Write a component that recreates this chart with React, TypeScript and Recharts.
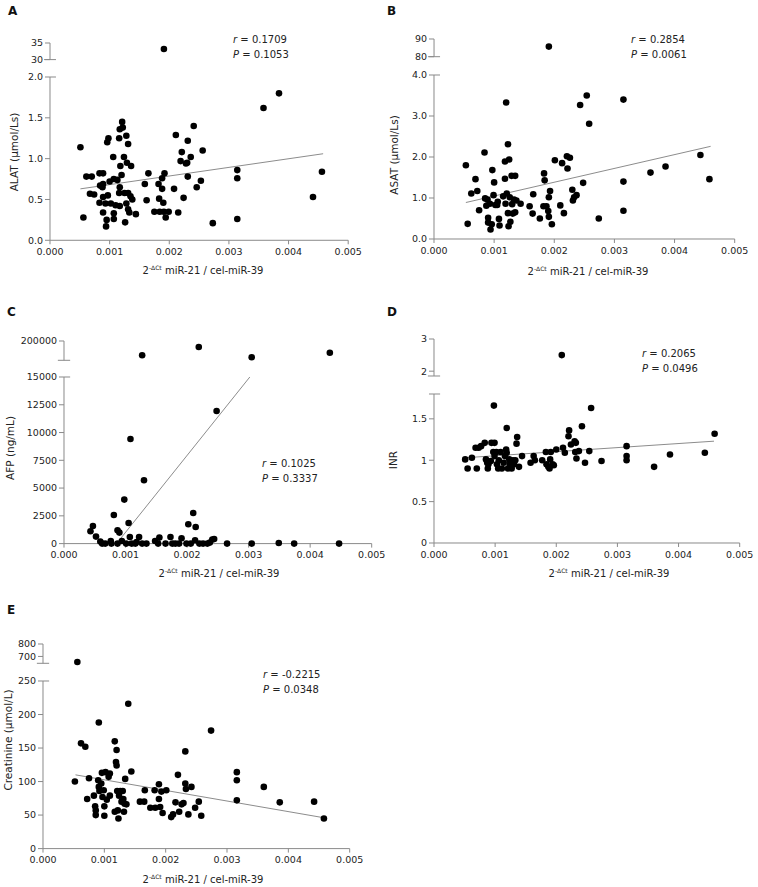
import React from 'react';
import { ScatterChart, Scatter, XAxis, YAxis, ReferenceLine } from 'recharts';

type Pair = [number, number];

const xTicks = [0, 0.001, 0.002, 0.003, 0.004, 0.005];

// A - ALAT
const alatPoints: Pair[] = [
  [0.00051, 1.14], [0.00056, 0.28], [0.00061, 0.78], [0.0007, 0.78], [0.00067, 0.57], [0.00074, 0.56],
  [0.00083, 0.82], [0.00089, 0.82], [0.00084, 0.67], [0.00083, 0.46], [0.00088, 0.65], [0.00089, 0.69],
  [0.00089, 0.53], [0.00089, 0.34], [0.00093, 0.45], [0.00095, 0.25], [0.00094, 0.17], [0.00096, 1.2],
  [0.00098, 1.25], [0.00097, 0.55], [0.001, 0.72], [0.00102, 0.45], [0.00106, 1.02], [0.00107, 0.75],
  [0.00107, 0.33], [0.00107, 0.26], [0.0011, 0.43], [0.00113, 0.74], [0.00116, 1.25], [0.00117, 1.36],
  [0.00118, 0.91], [0.0012, 0.8], [0.00117, 0.65], [0.00116, 0.58], [0.00117, 0.42], [0.00121, 1.45],
  [0.00122, 1.38], [0.00124, 1.02], [0.00125, 0.58], [0.00126, 0.22], [0.00128, 1.28], [0.00129, 0.95],
  [0.00128, 0.45], [0.00131, 1.18], [0.00131, 0.58], [0.00131, 0.38], [0.00135, 0.54], [0.00136, 0.91],
  [0.00133, 0.34], [0.00138, 0.5], [0.00144, 0.32], [0.00159, 0.69], [0.00162, 0.49], [0.00165, 0.82],
  [0.00175, 0.35], [0.00182, 0.69], [0.00183, 0.51], [0.00184, 0.35], [0.00188, 0.76], [0.00188, 0.63],
  [0.0019, 0.46], [0.00191, 0.35], [0.00192, 0.82], [0.00194, 0.28], [0.00199, 0.35], [0.00208, 0.63],
  [0.00211, 1.29], [0.00215, 0.34], [0.00219, 0.97], [0.00221, 1.08], [0.00224, 0.52], [0.00228, 0.94],
  [0.0023, 0.95], [0.00231, 0.78], [0.00231, 1.22], [0.00236, 1.02], [0.00241, 1.4], [0.00246, 0.65],
  [0.00253, 0.73], [0.00256, 1.1], [0.00273, 0.21], [0.00314, 0.86], [0.00314, 0.76], [0.00314, 0.26],
  [0.00358, 1.62], [0.00384, 1.8], [0.00441, 0.53], [0.00456, 0.84],
];
const alatHigh: Pair[] = [[0.00191, 33.2]];
const alatFit: Pair[] = [[0.00051, 0.63], [0.00458, 1.06]];

// B - ASAT
const asatPoints: Pair[] = [
  [0.00053, 1.8], [0.00056, 0.37], [0.00062, 1.11], [0.00069, 1.46], [0.00072, 1.17], [0.00075, 0.7],
  [0.00084, 2.11], [0.00085, 0.99], [0.00087, 0.81], [0.00089, 0.96], [0.0009, 0.52], [0.0009, 0.4],
  [0.00093, 0.86], [0.00094, 0.23], [0.00097, 1.68], [0.00096, 0.36], [0.00099, 1.07], [0.001, 1.38],
  [0.00102, 0.83], [0.00105, 0.83], [0.00106, 0.91], [0.00108, 0.49], [0.00109, 0.33], [0.00115, 1.04],
  [0.00118, 1.47], [0.00118, 1.89], [0.00119, 0.86], [0.0012, 3.33], [0.00121, 1.11], [0.00123, 0.63],
  [0.00123, 2.31], [0.00125, 1.94], [0.00126, 1.02], [0.00124, 0.31], [0.00127, 0.42], [0.00129, 1.54],
  [0.0013, 0.85], [0.00131, 0.62], [0.00133, 0.96], [0.00135, 1.54], [0.00135, 0.65], [0.00137, 0.94],
  [0.00144, 0.86], [0.00159, 0.8], [0.00164, 0.62], [0.00165, 1.09], [0.00176, 0.5], [0.00183, 1.6],
  [0.00184, 1.43], [0.00182, 0.8], [0.00187, 0.8], [0.0019, 0.68], [0.00191, 0.54], [0.00193, 1.17],
  [0.00191, 1.02], [0.00196, 0.36], [0.00201, 1.92], [0.0021, 0.82], [0.00213, 1.85], [0.00216, 0.63],
  [0.00221, 2.02], [0.00222, 1.72], [0.00226, 1.98], [0.0023, 1.2], [0.00231, 0.94], [0.00233, 1.02],
  [0.00237, 1.07], [0.00243, 3.27], [0.00248, 1.37], [0.00254, 3.5], [0.00258, 2.81], [0.00274, 0.5],
  [0.00315, 3.4], [0.00315, 1.4], [0.00315, 0.69], [0.0036, 1.62], [0.00385, 1.77], [0.00443, 2.05],
  [0.00458, 1.46],
];
const asatHigh: Pair[] = [[0.00191, 85.7]];
const asatFit: Pair[] = [[0.00053, 0.89], [0.0046, 2.26]];

// C - AFP
const afpPoints: Pair[] = [
  [0.00043, 1110], [0.00047, 1590], [0.00052, 630], [0.00059, 180], [0.00062, 0], [0.00067, 0],
  [0.00076, 240], [0.00077, 0], [0.00081, 2580], [0.00087, 1200], [0.0009, 990], [0.00087, 0],
  [0.00094, 240], [0.00098, 3960], [0.00101, 0], [0.00105, 1860], [0.00108, 9420], [0.00107, 600],
  [0.0011, 0], [0.00116, 0], [0.00118, 150], [0.00122, 600], [0.00127, 0], [0.0013, 5700],
  [0.00134, 0], [0.00148, 240], [0.00153, 0], [0.00155, 540], [0.00165, 0], [0.00173, 600],
  [0.00176, 0], [0.00181, 0], [0.00187, 0], [0.00191, 480], [0.00199, 0], [0.00202, 1740],
  [0.00206, 0], [0.0021, 2760], [0.00213, 300], [0.00214, 1500], [0.0022, 0], [0.00226, 0],
  [0.00233, 0], [0.00237, 90], [0.00241, 360], [0.00244, 420], [0.00248, 11940], [0.00265, 0],
  [0.00305, 0], [0.00349, 60], [0.00374, 0], [0.00447, 0],
];
const afpHigh: Pair[] = [[0.00127, 185200], [0.00219, 193800], [0.00305, 183100], [0.00432, 187900]];
const afpFit: Pair[] = [[0.00091, 390], [0.00302, 15000]];

// D - INR
const inrPoints: Pair[] = [
  [0.00051, 1.01], [0.00055, 0.9], [0.00062, 1.03], [0.00068, 1.15], [0.0007, 0.9], [0.00073, 1.15],
  [0.00077, 1.17], [0.00083, 1.21], [0.00085, 1.01], [0.00087, 0.97], [0.00088, 0.9], [0.00089, 0.95],
  [0.00093, 0.99], [0.00094, 1.21], [0.00097, 1.1], [0.00098, 1.66], [0.00099, 1.21], [0.00099, 1.05],
  [0.00102, 1.1], [0.00103, 0.95], [0.00105, 0.9], [0.00106, 1.0], [0.00109, 1.1], [0.00111, 0.9],
  [0.00114, 0.97], [0.00116, 1.05], [0.00118, 1.13], [0.00119, 1.39], [0.00119, 1.09], [0.00121, 0.9],
  [0.00123, 1.01], [0.00124, 0.95], [0.00127, 0.9], [0.00129, 1.0], [0.00131, 0.95], [0.00133, 1.0],
  [0.00135, 1.2], [0.00136, 1.28], [0.00139, 0.92], [0.00144, 1.05], [0.00158, 0.97], [0.00163, 1.05],
  [0.00165, 1.0], [0.00177, 1.0], [0.00183, 1.1], [0.00184, 0.95], [0.00187, 0.92], [0.00189, 0.9],
  [0.0019, 1.01], [0.00191, 1.1], [0.00194, 0.95], [0.00196, 0.94], [0.002, 1.13], [0.00211, 1.15],
  [0.00214, 1.09], [0.0022, 1.29], [0.00221, 1.36], [0.00224, 1.19], [0.0023, 1.23], [0.00232, 1.21],
  [0.00231, 1.1], [0.00233, 1.02], [0.00237, 1.11], [0.00242, 1.41], [0.00247, 0.97], [0.00254, 1.11],
  [0.00257, 1.63], [0.00274, 0.99], [0.00315, 1.17], [0.00315, 1.05], [0.00315, 1.0], [0.0036, 0.92],
  [0.00386, 1.07], [0.00443, 1.09], [0.00459, 1.32],
];
const inrHigh: Pair[] = [[0.00209, 2.5]];
const inrFit: Pair[] = [[0.00051, 1.03], [0.00458, 1.23]];

// E - Creatinine
const creaPoints: Pair[] = [
  [0.00052, 100], [0.00062, 157], [0.00069, 152], [0.00072, 74], [0.00075, 105], [0.00083, 79],
  [0.00085, 63], [0.00086, 57], [0.00086, 50], [0.00091, 188], [0.0009, 102], [0.00091, 92],
  [0.00092, 86], [0.00095, 97], [0.00096, 113], [0.00097, 77], [0.00099, 87], [0.001, 63],
  [0.001, 49], [0.00102, 114], [0.00104, 73], [0.00107, 107], [0.00109, 112], [0.00109, 79],
  [0.00117, 160], [0.00117, 55], [0.00119, 129], [0.0012, 147], [0.0012, 124], [0.00121, 86],
  [0.00122, 57], [0.00123, 45], [0.00124, 79], [0.00126, 86], [0.00128, 70], [0.0013, 86],
  [0.00131, 74], [0.00132, 55], [0.00133, 67], [0.00134, 104], [0.00136, 66], [0.00139, 216],
  [0.00144, 115], [0.00158, 70], [0.00165, 70], [0.00166, 87], [0.00175, 61], [0.00182, 87],
  [0.00183, 61], [0.00189, 96], [0.00189, 74], [0.00191, 62], [0.00193, 85], [0.00195, 53],
  [0.00201, 87], [0.00209, 47], [0.00212, 51], [0.00216, 69], [0.0022, 110], [0.00222, 55],
  [0.00226, 66], [0.00229, 68], [0.00232, 145], [0.00232, 97], [0.00233, 89], [0.00237, 51],
  [0.00242, 92], [0.00248, 61], [0.00254, 70], [0.00258, 49], [0.00274, 176], [0.00316, 114],
  [0.00316, 102], [0.00316, 72], [0.0036, 92], [0.00386, 69], [0.00442, 70], [0.00458, 45],
];
const creaHigh: Pair[] = [[0.00056, 656]];
const creaFit: Pair[] = [[0.00053, 110], [0.00458, 46]];

const toPts = (arr: Pair[]) => arr.map(([x, y]) => ({ x, y }));

const FONT = '"DejaVu Sans", Verdana, sans-serif';
const AXIS = '#8a8a8a';
const TXT = '#222';
const YW = 60;
const MR = 22;
const MT = 8;
const MB = 8;
const XH = 30;

const Dot = (p: any) => <circle cx={p.cx} cy={p.cy} r={3.3} fill="#000" />;
const NoDot = () => <g />;

const tickStyle = { fill: TXT, fontSize: 9.5, fontFamily: FONT };

interface PanelProps {
  letter: string;
  letterPos: [number, number];
  plotLeft: number;
  plotRight: number;
  mainTop: number;
  mainBottom: number;
  topTop: number;
  topBottom: number;
  mainDomain: [number, number];
  mainTicks: number[];
  topDomain: [number, number];
  topTicks: number[];
  fmt: (v: number) => string;
  points: Pair[];
  high: Pair[];
  fit: Pair[];
  yLabel: string;
  yLabelPos: [number, number];
  xLabelPos: [number, number];
  r: string;
  p: string;
  statPos: [number, number];
}

function Panel(pr: PanelProps) {
  const plotW = pr.plotRight - pr.plotLeft;
  const w = YW + plotW + MR;
  const mainH = MT + (pr.mainBottom - pr.mainTop) + XH;
  const topH = MT + (pr.topBottom - pr.topTop) + MB;
  const stub = 0.0001;
  return (
    <>
      <div style={{ position: 'absolute', left: pr.letterPos[0], top: pr.letterPos[1], fontFamily: FONT, fontWeight: 'bold', fontSize: 12, lineHeight: '12px', color: '#111' }}>
        {pr.letter}
      </div>
      <div style={{ position: 'absolute', left: pr.plotLeft - YW, top: pr.topTop - MT }}>
        <ScatterChart width={w} height={topH} margin={{ top: MT, right: MR, bottom: MB, left: 0 }}>
          <XAxis type="number" dataKey="x" domain={[0, 0.005]} hide />
          <YAxis type="number" dataKey="y" domain={pr.topDomain} ticks={pr.topTicks} width={YW}
            tickFormatter={pr.fmt} stroke={AXIS} tickSize={5} tickMargin={2} tick={tickStyle} interval={0} />
          <ReferenceLine ifOverflow="visible" stroke={AXIS}
            segment={[{ x: -stub, y: pr.topDomain[0] }, { x: stub, y: pr.topDomain[0] }]} />
          <Scatter data={toPts(pr.high)} shape={Dot} isAnimationActive={false} />
        </ScatterChart>
      </div>
      <div style={{ position: 'absolute', left: pr.plotLeft - YW, top: pr.mainTop - MT }}>
        <ScatterChart width={w} height={mainH} margin={{ top: MT, right: MR, bottom: 0, left: 0 }}>
          <XAxis type="number" dataKey="x" domain={[0, 0.005]} ticks={xTicks} height={XH} interval={0}
            tickFormatter={(v: number) => v.toFixed(3)} stroke={AXIS} tickSize={4} tickMargin={4} tick={tickStyle} />
          <YAxis type="number" dataKey="y" domain={pr.mainDomain} ticks={pr.mainTicks} width={YW} interval={0}
            tickFormatter={pr.fmt} stroke={AXIS} tickSize={5} tickMargin={2} tick={tickStyle} />
          <ReferenceLine ifOverflow="visible" stroke={AXIS}
            segment={[{ x: 0, y: pr.mainDomain[1] }, { x: stub, y: pr.mainDomain[1] }]} />
          <Scatter data={toPts(pr.fit)} line={{ stroke: '#8c8c8c', strokeWidth: 1 }} shape={NoDot} isAnimationActive={false} />
          <Scatter data={toPts(pr.points)} shape={Dot} isAnimationActive={false} />
        </ScatterChart>
      </div>
      <div style={{ position: 'absolute', left: pr.yLabelPos[0] - 80, top: pr.yLabelPos[1] - 7, width: 160, textAlign: 'center', transform: 'rotate(-90deg)', fontFamily: FONT, fontSize: 10.5, lineHeight: '14px', color: TXT, whiteSpace: 'nowrap' }}>
        {pr.yLabel}
      </div>
      <div style={{ position: 'absolute', left: pr.xLabelPos[0] - 100, top: pr.xLabelPos[1] - 8, width: 200, textAlign: 'center', fontFamily: FONT, fontSize: 10, lineHeight: '14px', color: TXT, whiteSpace: 'nowrap' }}>
        2<sup style={{ fontSize: 6, verticalAlign: 'top', lineHeight: '8px' }}>-ΔCt</sup> miR-21 / cel-miR-39
      </div>
      <div style={{ position: 'absolute', left: pr.statPos[0], top: pr.statPos[1] - 7, fontFamily: FONT, fontSize: 10, lineHeight: '15px', color: TXT, whiteSpace: 'nowrap' }}>
        <div><i>r</i> = {pr.r}</div>
        <div><i>P</i> = {pr.p}</div>
      </div>
    </>
  );
}

const fmtA = (v: number) => (v >= 30 ? String(v) : v.toFixed(1));
const fmtB = (v: number) => (v >= 80 ? String(v) : v.toFixed(1));
const f0 = (v: number) => String(v);
const fInr = (v: number) => (v > 1.7 && v < 1.9 ? '' : String(v));

export default function App() {
  return (
    <div style={{ position: 'absolute', left: 0, top: 0, width: 758, height: 887, background: '#fff', overflow: 'hidden' }}>
      <Panel letter="A" letterPos={[8, 5]} plotLeft={49.5} plotRight={347.7} mainTop={76.7} mainBottom={240}
        topTop={42.7} topBottom={59.3} mainDomain={[0, 2]} mainTicks={[0, 0.5, 1, 1.5, 2]} topDomain={[30, 35]} topTicks={[30, 35]}
        fmt={fmtA} points={alatPoints} high={alatHigh} fit={alatFit}
        yLabel="ALAT (μmol/Ls)" yLabelPos={[14, 152]} xLabelPos={[203, 272]} r="0.1709" p="0.1053" statPos={[233, 39]} />
      <Panel letter="B" letterPos={[387, 5]} plotLeft={434.3} plotRight={735} mainTop={74.7} mainBottom={238.7}
        topTop={39} topBottom={56.7} mainDomain={[0, 4]} mainTicks={[0, 1, 2, 3, 4]} topDomain={[80, 90]} topTicks={[80, 90]}
        fmt={fmtB} points={asatPoints} high={asatHigh} fit={asatFit}
        yLabel="ASAT (μmol/Ls)" yLabelPos={[394, 155]} xLabelPos={[588, 273]} r="0.2854" p="0.0061" statPos={[631, 39]} />
      <Panel letter="C" letterPos={[7, 306]} plotLeft={64} plotRight={371.7} mainTop={376.7} mainBottom={543.3}
        topTop={340.7} topBottom={360} mainDomain={[0, 15000]} mainTicks={[0, 2500, 5000, 7500, 10000, 12500, 15000]}
        topDomain={[180000, 200000]} topTicks={[200000]} fmt={f0} points={afpPoints} high={afpHigh} fit={afpFit}
        yLabel="AFP (ng/mL)" yLabelPos={[10, 448]} xLabelPos={[219, 575]} r="0.1025" p="0.3337" statPos={[262, 463]} />
      <Panel letter="D" letterPos={[387, 306]} plotLeft={434.3} plotRight={740} mainTop={394.3} mainBottom={543.3}
        topTop={339} topBottom={376} mainDomain={[0, 1.8]} mainTicks={[0, 0.5, 1, 1.5, 1.8]}
        topDomain={[1.85, 3]} topTicks={[2, 3]} fmt={fInr} points={inrPoints} high={inrHigh} fit={inrFit}
        yLabel="INR" yLabelPos={[393, 460]} xLabelPos={[609, 575]} r="0.2065" p="0.0496" statPos={[642, 353]} />
      <Panel letter="E" letterPos={[7, 604]} plotLeft={43.3} plotRight={350} mainTop={680.7} mainBottom={848.3}
        topTop={644} topBottom={663.3} mainDomain={[0, 250]} mainTicks={[0, 50, 100, 150, 200, 250]}
        topDomain={[645, 800]} topTicks={[700, 800]} fmt={f0} points={creaPoints} high={creaHigh} fit={creaFit}
        yLabel="Creatinine (μmol/L)" yLabelPos={[8, 740]} xLabelPos={[203, 881]} r="-0.2215" p="0.0348" statPos={[263, 674]} />
    </div>
  );
}
